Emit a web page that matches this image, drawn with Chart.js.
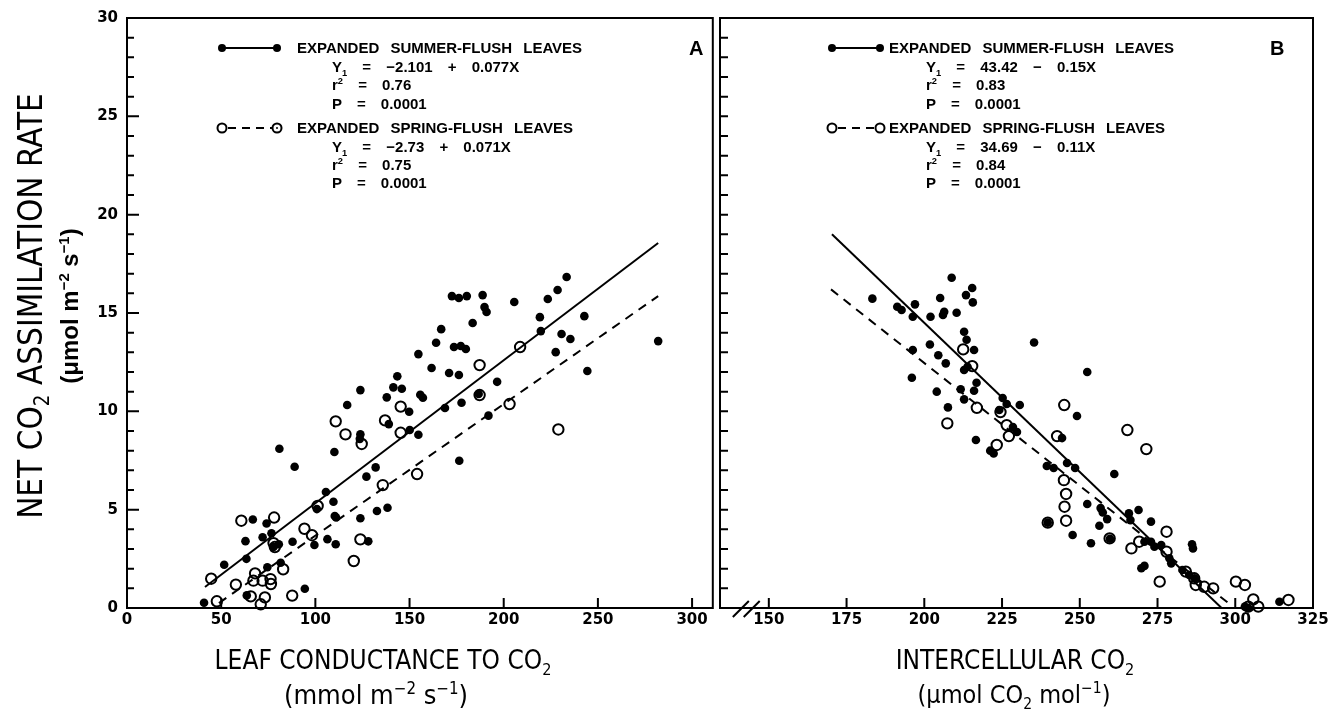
<!DOCTYPE html>
<html>
<head>
<meta charset="utf-8">
<script src="https://cdn.jsdelivr.net/npm/chart.js@4.4.0/dist/chart.umd.min.js"></script>
<style>
html, body { margin: 0; padding: 0; background: #fff; }
#wrap { position: relative; width: 1343px; height: 717px; overflow: hidden; }
canvas { position: absolute; top: 0; }
#cA { left: 0; }
#cB { left: 700px; }
.t { position: absolute; white-space: pre; font-family: "Liberation Sans", Arial, sans-serif; font-weight: bold;
     font-size: 15px; line-height: 16px; color: #000; word-spacing: 7px; }
.eq { word-spacing: 11px; }
.big { font-size: 20px; line-height: 20px; }
.ttl { position: absolute; white-space: pre; font-family: "Liberation Sans Narrow", "DejaVu Sans Condensed", sans-serif;
       color: #000; transform: translate(-50%, -50%); }
.rot { transform: translate(-50%, -50%) rotate(-90deg); }
sub, sup { font-size: 62%; line-height: 0; }
svg.mk { position: absolute; overflow: visible; }
</style>
</head>
<body>
<div id="wrap">
  <canvas id="cA" width="720" height="717"></canvas>
  <canvas id="cB" width="643" height="717"></canvas>

  <!-- axis titles -->
  <div class="ttl rot" style="left:30px;top:306px;font-size:33px">NET CO<sub>2</sub> ASSIMILATION RATE</div>
  <div class="ttl rot" style="left:70px;top:306px;font-family:'Liberation Sans',Arial,sans-serif;font-weight:bold;font-size:24px">(μmol m<sup>−2</sup> s<sup>−1</sup>)</div>
  <div class="ttl" style="left:383px;top:660px;font-size:26px">LEAF CONDUCTANCE TO CO<sub>2</sub></div>
  <div class="ttl" style="left:376px;top:694px;font-size:27px">(mmol m<sup>−2</sup> s<sup>−1</sup>)</div>
  <div class="ttl" style="left:1015px;top:660px;font-size:26px">INTERCELLULAR CO<sub>2</sub></div>
  <div class="ttl" style="left:1014px;top:694px;font-size:25px">(μmol CO<sub>2</sub> mol<sup>−1</sup>)</div>

  <!-- panel A legend -->
  <svg class="mk" style="left:222px;top:48px" width="56" height="2">
    <line x1="0" y1="0" x2="55" y2="0" stroke="#000" stroke-width="2"/>
    <circle cx="0" cy="0" r="4" fill="#000"/><circle cx="55" cy="0" r="4" fill="#000"/>
  </svg>
  <div class="t" style="left:297px;top:40px">EXPANDED SUMMER-FLUSH LEAVES</div>
  <div class="t eq" style="left:332px;top:59px">Y<sub>1</sub> = −2.101 + 0.077X</div>
  <div class="t eq" style="left:332px;top:77px">r<sup>2</sup> = 0.76</div>
  <div class="t eq" style="left:332px;top:96px">P = 0.0001</div>
  <svg class="mk" style="left:222px;top:128px" width="56" height="2">
    <line x1="6" y1="0" x2="50" y2="0" stroke="#000" stroke-width="2" stroke-dasharray="8,6"/>
    <circle cx="0" cy="0" r="4.5" fill="#fff" stroke="#000" stroke-width="2"/>
    <circle cx="55" cy="0" r="4.5" fill="#fff" stroke="#000" stroke-width="2"/>
    <circle cx="55" cy="0" r="1" fill="#000"/>
  </svg>
  <div class="t" style="left:297px;top:120px">EXPANDED SPRING-FLUSH LEAVES</div>
  <div class="t eq" style="left:332px;top:139px">Y<sub>1</sub> = −2.73 + 0.071X</div>
  <div class="t eq" style="left:332px;top:157px">r<sup>2</sup> = 0.75</div>
  <div class="t eq" style="left:332px;top:175px">P = 0.0001</div>
  <div class="t big" style="left:689px;top:38px">A</div>

  <!-- panel B legend -->
  <svg class="mk" style="left:832px;top:48px" width="50" height="2">
    <line x1="0" y1="0" x2="48" y2="0" stroke="#000" stroke-width="2"/>
    <circle cx="0" cy="0" r="4" fill="#000"/><circle cx="48" cy="0" r="4" fill="#000"/>
  </svg>
  <div class="t" style="left:889px;top:40px">EXPANDED SUMMER-FLUSH LEAVES</div>
  <div class="t eq" style="left:926px;top:59px">Y<sub>1</sub> = 43.42 − 0.15X</div>
  <div class="t eq" style="left:926px;top:77px">r<sup>2</sup> = 0.83</div>
  <div class="t eq" style="left:926px;top:96px">P = 0.0001</div>
  <svg class="mk" style="left:832px;top:128px" width="50" height="2">
    <line x1="6" y1="0" x2="43" y2="0" stroke="#000" stroke-width="2" stroke-dasharray="8,6"/>
    <circle cx="0" cy="0" r="4.5" fill="#fff" stroke="#000" stroke-width="2"/>
    <circle cx="48" cy="0" r="4.5" fill="#fff" stroke="#000" stroke-width="2"/>
  </svg>
  <div class="t" style="left:889px;top:120px">EXPANDED SPRING-FLUSH LEAVES</div>
  <div class="t eq" style="left:926px;top:139px">Y<sub>1</sub> = 34.69 − 0.11X</div>
  <div class="t eq" style="left:926px;top:157px">r<sup>2</sup> = 0.84</div>
  <div class="t eq" style="left:926px;top:175px">P = 0.0001</div>
  <div class="t big" style="left:1270px;top:38px">B</div>
</div>

<script>
// ---- tick values ----
const condTicks = [0, 50, 100, 150, 200, 250, 300];
const ciTicks = [150, 175, 200, 225, 250, 275, 300, 325];
const rateTicks = [0, 5, 10, 15, 20, 25, 30];
const rateMinorTicks = [0, 1, 2, 3, 4, 5, 6, 7, 8, 9, 10, 11, 12, 13, 14, 15, 16, 17, 18, 19, 20,
  21, 22, 23, 24, 25, 26, 27, 28, 29, 30];

// ---- panel A: net assimilation vs leaf conductance ----
const summerCondX = [40.9, 51.6, 62.9, 63.4, 63.6, 66.8, 72, 74.1, 74.5, 76.7, 77.8, 80.6, 81.6, 80.9, 87.9,
  89, 94.4, 99.5, 100.8, 105.6, 106.4, 109.6, 110.3, 111, 110.8, 110.1, 116.9, 123.9, 123.9, 123.6,
  123.9, 127.1, 128.1, 132, 132.7, 137.9, 138.3, 139, 141.4, 143.5, 145.9, 149.8, 150.1, 154.7, 154.7,
  155.7, 157.1, 161.7, 164.1, 166.8, 168.8, 171, 173.6, 172.5, 176.2, 176.4, 177.2, 177.6, 179.9, 180.4,
  176.2, 183.5, 186.7, 188.8, 189.8, 190.9, 191.9, 196.5, 205.6, 219.2, 219.7, 223.4, 227.6, 228.6,
  230.7, 233.4, 235.4, 242.8, 244.4, 282];
const summerCondY = [0.27, 2.2, 3.4, 2.5, 0.64, 4.5, 3.6, 4.3, 2.07, 3.8, 3.1, 3.24, 2.3, 8.1, 3.37,
  7.18, 0.98, 3.2, 5.03, 5.9, 3.5, 5.4, 4.68, 4.6, 3.24, 7.93, 10.32, 11.08, 8.83, 8.6,
  4.56, 6.68, 3.39, 7.15, 4.93, 10.71, 5.1, 9.35, 11.22, 11.78, 11.15, 9.98, 9.05, 12.91, 8.81,
  10.84, 10.69, 12.2, 13.49, 14.18, 10.17, 11.95, 13.27, 15.86, 15.76, 7.49, 13.32, 10.44, 13.17, 15.86,
  11.85, 14.49, 10.88, 15.91, 15.3, 15.05, 9.78, 11.5, 15.56, 14.79, 14.08, 15.71, 13.01, 16.17,
  13.93, 16.83, 13.68, 14.84, 12.05, 13.57];
const springCondX = [44.7, 47.7, 57.8, 60.7, 65.7, 67.1, 68, 71, 72, 73.2, 76.2, 76.4, 77.8, 78.1, 78.5,
  82.9, 87.7, 94.2, 98.2, 101.2, 110.8, 116, 120.4, 123.9, 124.6, 135.8, 137, 145.3, 145.3, 154,
  187.2, 187.2, 203.1, 208.7, 229];
const springCondY = [1.49, 0.34, 1.19, 4.44, 0.59, 1.39, 1.76, 0.19, 1.39, 0.54, 1.47, 1.22, 3.3, 4.6, 3.1,
  1.97, 0.63, 4.03, 3.7, 5.19, 9.49, 8.83, 2.39, 3.49, 8.34, 6.25, 9.54, 10.24, 8.91, 6.81,
  10.83, 12.35, 10.37, 13.27, 9.08];
// fitted lines, end points
const summerCondLineX = [41.4, 282];
const summerCondLineY = [1.07, 18.56];
const springCondLineX = [48.8, 282];
const springCondLineY = [0.25, 15.86];

// ---- panel B: net assimilation vs intercellular CO2 ----
const summerCiX = [183.3, 191.3, 192.7, 196.3, 197, 202, 205.1, 206.4, 206, 208.8, 210.4, 213.4, 215.4, 215.6,
  212.8, 213.6, 216, 196.3, 201.8, 204.5, 206.9, 196, 211.7, 204, 212.8, 207.6, 216, 216.8, 216.6,
  212.8, 213.9, 221.2, 222.3, 224.1, 225.2, 226.5, 228.5, 229.8, 230.7, 235.3, 239.4, 241.6, 245.9,
  244.3, 249.1, 248.5, 252.4, 252.4, 257.4, 258.8, 256.3, 239.7, 247.7, 253.6, 259.7, 265.8, 268.9,
  266.3, 272.9, 270.8, 272.9, 274, 276.2, 278.8, 279.4, 286.1, 286.4, 269.8, 270.8, 283, 285.2, 287,
  303.1, 304.2, 314.2, 261.1, 256.7];
const summerCiY = [15.73, 15.32, 15.15, 14.81, 15.44, 14.81, 15.76, 15.06, 14.9, 16.79, 15.01, 15.91, 16.27, 15.54,
  14.05, 13.64, 13.12, 13.12, 13.4, 12.85, 12.44, 11.71, 11.12, 11, 10.61, 10.2, 11.05, 11.45, 8.54,
  12.1, 12.27, 8.0, 7.86, 10.07, 10.68, 10.37, 9.2, 8.95, 10.32, 13.5, 7.22, 7.12, 7.37,
  8.64, 9.76, 7.12, 12.0, 5.29, 4.86, 4.52, 4.18, 4.34, 3.71, 3.29, 3.52, 4.81, 4.98,
  4.47, 4.39, 3.37, 3.37, 3.12, 3.2, 2.53, 2.27, 3.24, 3.03, 2.02, 2.14, 1.93, 1.68, 1.51,
  0.07, 0, 0.32, 6.81, 5.08];
const springCiX = [212.5, 215.4, 207.4, 216.9, 223.3, 224.5, 226.5, 227.2, 242.7, 245, 244.9, 245.6, 245.1,
  245.6, 259.6, 265.3, 271.4, 266.6, 269.1, 277.9, 277.9, 275.7, 284.1, 286.8, 287.3, 290, 292.9,
  300.2, 303.1, 305.8, 307.4, 304.2, 317.1, 239.7];
const springCiY = [13.15, 12.3, 9.39, 10.18, 8.29, 9.96, 9.3, 8.74, 8.74, 10.32, 6.5, 5.8, 5.15,
  4.44, 3.54, 9.05, 8.08, 3.03, 3.37, 3.88, 2.86, 1.34, 1.85, 1.51, 1.17, 1.08, 1.0,
  1.34, 1.17, 0.44, 0.07, 0.07, 0.41, 4.34];
const summerCiLineX = [170.3, 295.6];
const summerCiLineY = [19.0, 0];
const springCiLineX = [170, 299];
const springCiLineY = [16.2, 0.1];

const pts = (xs, ys) => xs.map((x, i) => ({ x: x, y: ys[i] }));
const tickFont = { family: 'DejaVu Sans', size: 15, weight: 'bold' };

// frame, inward ticks and axis break
const framePlugin = {
  id: 'frame',
  afterDraw(chart, args, o) {
    const { ctx, chartArea: a, scales } = chart;
    ctx.save();
    ctx.strokeStyle = '#000';
    ctx.lineWidth = 2;
    ctx.strokeRect(a.left, a.top, a.right - a.left, a.bottom - a.top);
    ctx.beginPath();
    o.yTicks.forEach(v => {
      const py = scales.y.getPixelForValue(v);
      const len = (v % 5 === 0) ? o.yMajor : o.yMinor;
      ctx.moveTo(a.left, py);
      ctx.lineTo(a.left + len, py);
    });
    o.xTicks.forEach(v => {
      const px = scales.x.getPixelForValue(v);
      ctx.moveTo(px, a.bottom);
      ctx.lineTo(px, a.bottom - o.xLen);
    });
    ctx.stroke();
    if (o.breakAt) {
      ctx.beginPath();
      o.breakAt.forEach(v => {
        const px = scales.x.getPixelForValue(v);
        ctx.moveTo(px - 8, a.bottom + 9);
        ctx.lineTo(px + 8, a.bottom - 7);
      });
      ctx.stroke();
    }
    ctx.restore();
  }
};

function datasets(sx, sy, px, py, lsx, lsy, lpx, lpy) {
  return [
    { type: 'line', data: pts(lsx, lsy), borderColor: '#000', borderWidth: 2, pointRadius: 0, fill: false },
    { type: 'line', data: pts(lpx, lpy), borderColor: '#000', borderWidth: 2, borderDash: [9, 7], pointRadius: 0, fill: false },
    { data: pts(sx, sy), pointRadius: 4.3, backgroundColor: '#000', borderColor: '#000', borderWidth: 0, clip: false },
    { data: pts(px, py), pointRadius: 5.2, backgroundColor: 'rgba(0,0,0,0)', borderColor: '#000', borderWidth: 2, clip: false }
  ];
}

new Chart(document.getElementById('cA'), {
  type: 'scatter',
  data: { datasets: datasets(summerCondX, summerCondY, springCondX, springCondY,
    summerCondLineX, summerCondLineY, springCondLineX, springCondLineY) },
  options: {
    responsive: false,
    animation: false,
    layout: { padding: { top: 18, right: 0, bottom: 0, left: 0 } },
    plugins: {
      legend: { display: false },
      tooltip: { enabled: false },
      frame: { yTicks: rateMinorTicks, yMinor: 7, yMajor: 12, xTicks: condTicks, xLen: 10 }
    },
    scales: {
      x: {
        type: 'linear', min: 0, max: 311,
        afterBuildTicks: s => { s.ticks = condTicks.map(v => ({ value: v })); },
        ticks: { font: tickFont, color: '#000', padding: 3, maxRotation: 0 },
        grid: { display: false, drawTicks: false },
        border: { display: false },
        afterFit: s => { s.height = 109; }
      },
      y: {
        type: 'linear', min: 0, max: 30,
        afterBuildTicks: s => { s.ticks = rateTicks.map(v => ({ value: v })); },
        ticks: { font: tickFont, color: '#000', padding: 9 },
        grid: { display: false, drawTicks: false },
        border: { display: false },
        afterFit: s => { s.width = 127; }
      }
    }
  },
  plugins: [framePlugin]
});

new Chart(document.getElementById('cB'), {
  type: 'scatter',
  data: { datasets: datasets(summerCiX, summerCiY, springCiX, springCiY,
    summerCiLineX, summerCiLineY, springCiLineX, springCiLineY) },
  options: {
    responsive: false,
    animation: false,
    layout: { padding: { top: 18, right: 30, bottom: 0, left: 0 } },
    plugins: {
      legend: { display: false },
      tooltip: { enabled: false },
      frame: { yTicks: rateMinorTicks, yMinor: 8, yMajor: 8, xTicks: ciTicks, xLen: 10, breakAt: [141, 144.5] }
    },
    scales: {
      x: {
        type: 'linear', min: 134.3, max: 325,
        afterBuildTicks: s => { s.ticks = ciTicks.map(v => ({ value: v })); },
        ticks: { font: tickFont, color: '#000', padding: 3, maxRotation: 0 },
        grid: { display: false, drawTicks: false },
        border: { display: false },
        afterFit: s => { s.height = 109; }
      },
      y: {
        type: 'linear', min: 0, max: 30,
        ticks: { display: false },
        grid: { display: false, drawTicks: false },
        border: { display: false },
        afterFit: s => { s.width = 20; }
      }
    }
  },
  plugins: [framePlugin]
});
</script>
</body>
</html>
